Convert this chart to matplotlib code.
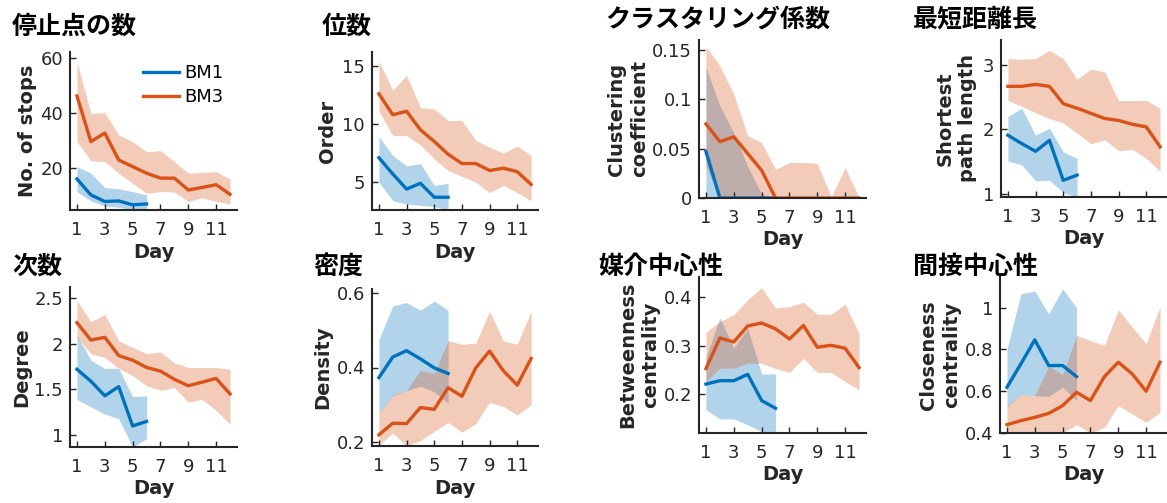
import matplotlib
matplotlib.use("Agg")
import matplotlib.pyplot as plt
from matplotlib.ticker import FuncFormatter

days1 = [1, 2, 3, 4, 5, 6]
days3 = [1, 2, 3, 4, 5, 6, 7, 8, 9, 10, 11, 12]
xticks = [1, 3, 5, 7, 9, 11]

# ── 停止点の数 ────────────────────────────────────────────────────────────
stops_bm1    = [16.1, 10.3, 7.9, 8.1, 6.7, 7.0]
stops_bm1_lo = [11.5, 8.1, 6.3, 5.8, 4.8, 5.1]
stops_bm1_hi = [20.6, 18.2, 13.0, 12.5, 11.5, 10.3]
stops_bm3    = [46.3, 29.7, 32.8, 23.0, 20.6, 18.2, 16.4, 16.4, 12.1, 13.0, 14.0, 10.5]
stops_bm3_lo = [29.7, 22.7, 22.4, 18.2, 14.5, 10.9, 11.5, 11.3, 7.9, 9.3, 7.9, 7.0]
stops_bm3_hi = [58.8, 40.0, 40.2, 32.1, 29.7, 26.0, 26.4, 22.4, 18.2, 18.5, 18.8, 16.1]

# ── 位数 ──────────────────────────────────────────────────────────────────
order_bm1    = [7.1, 5.7, 4.4, 4.9, 3.7, 3.7]
order_bm1_lo = [5.0, 3.4, 3.1, 3.0, 2.9, 2.6]
order_bm1_hi = [8.9, 7.3, 6.4, 6.6, 4.7, 4.9]
order_bm3    = [12.6, 10.8, 11.1, 9.5, 8.5, 7.4, 6.6, 6.6, 6.0, 6.2, 5.9, 4.8]
order_bm3_lo = [11.1, 9.0, 9.0, 8.2, 7.0, 6.0, 5.5, 5.0, 4.1, 4.7, 4.1, 3.4]
order_bm3_hi = [15.4, 12.9, 14.2, 11.4, 11.3, 10.3, 10.3, 8.6, 8.0, 7.5, 8.1, 7.3]

# ── クラスタリング係数 ────────────────────────────────────────────────────
clus_bm1    = [0.047, 0, 0, 0, 0, 0]
clus_bm1_lo = [0, 0, 0, 0, 0, 0]
clus_bm1_hi = [0.132, 0.093, 0.066, 0.032, 0.004, 0]
clus_bm3    = [0.075, 0.057, 0.062, 0.045, 0.028, 0, 0, 0, 0, 0, 0, 0]
clus_bm3_lo = [0.032, 0, 0, 0, 0, 0, 0, 0, 0, 0, 0, 0]
clus_bm3_hi = [0.153, 0.134, 0.105, 0.063, 0.056, 0.029, 0.036, 0.036, 0.035, 0.001, 0.031, 0]

# ── 最短距離長 ────────────────────────────────────────────────────────────
path_bm1    = [1.91, 1.78, 1.66, 1.83, 1.21, 1.29]
path_bm1_lo = [1.51, 1.45, 1.20, 1.21, 1.02, 0.95]
path_bm1_hi = [2.20, 2.33, 1.91, 2.02, 1.65, 1.55]
path_bm3    = [2.67, 2.67, 2.70, 2.67, 2.40, 2.33, 2.25, 2.17, 2.14, 2.08, 2.04, 1.73]
path_bm3_lo = [2.45, 2.36, 2.26, 2.17, 2.10, 1.94, 1.78, 1.84, 1.67, 1.69, 1.55, 1.35]
path_bm3_hi = [3.10, 3.09, 3.10, 3.23, 3.10, 2.78, 2.94, 2.89, 2.45, 2.45, 2.45, 2.33]

# ── 次数 ──────────────────────────────────────────────────────────────────
deg_bm1    = [1.72, 1.59, 1.43, 1.53, 1.10, 1.15]
deg_bm1_lo = [1.39, 1.31, 1.23, 1.18, 0.87, 0.96]
deg_bm1_hi = [2.09, 1.82, 1.73, 1.73, 1.42, 1.43]
deg_bm3    = [2.23, 2.04, 2.07, 1.87, 1.82, 1.74, 1.70, 1.61, 1.54, 1.58, 1.62, 1.45]
deg_bm3_lo = [2.07, 1.89, 1.85, 1.73, 1.65, 1.54, 1.49, 1.52, 1.36, 1.39, 1.27, 1.12]
deg_bm3_hi = [2.47, 2.24, 2.32, 2.03, 1.96, 1.89, 1.91, 1.79, 1.74, 1.74, 1.74, 1.72]

# ── 密度 ──────────────────────────────────────────────────────────────────
dens_bm1    = [0.373, 0.428, 0.445, 0.423, 0.399, 0.384]
dens_bm1_lo = [0.278, 0.325, 0.338, 0.350, 0.335, 0.304]
dens_bm1_hi = [0.475, 0.565, 0.574, 0.553, 0.578, 0.553]
dens_bm3    = [0.220, 0.251, 0.250, 0.293, 0.288, 0.346, 0.323, 0.399, 0.444, 0.391, 0.353, 0.424]
dens_bm3_lo = [0.192, 0.225, 0.190, 0.205, 0.229, 0.253, 0.227, 0.250, 0.307, 0.296, 0.273, 0.300]
dens_bm3_hi = [0.278, 0.327, 0.338, 0.393, 0.384, 0.472, 0.462, 0.465, 0.550, 0.471, 0.462, 0.550]

# ── 媒介中心性 ────────────────────────────────────────────────────────────
btw_bm1    = [0.221, 0.228, 0.228, 0.241, 0.187, 0.171]
btw_bm1_lo = [0.168, 0.149, 0.149, 0.137, 0.123, 0.123]
btw_bm1_hi = [0.275, 0.358, 0.295, 0.336, 0.242, 0.242]
btw_bm3    = [0.253, 0.316, 0.308, 0.341, 0.347, 0.335, 0.314, 0.342, 0.297, 0.301, 0.295, 0.255]
btw_bm3_lo = [0.226, 0.254, 0.254, 0.264, 0.264, 0.253, 0.245, 0.274, 0.245, 0.245, 0.226, 0.209]
btw_bm3_hi = [0.328, 0.350, 0.364, 0.395, 0.420, 0.378, 0.381, 0.390, 0.365, 0.365, 0.386, 0.325]

# ── 間接中心性 ────────────────────────────────────────────────────────────
clo_bm1    = [0.619, 0.731, 0.846, 0.723, 0.723, 0.670]
clo_bm1_lo = [0.526, 0.584, 0.579, 0.575, 0.620, 0.555]
clo_bm1_hi = [0.803, 1.067, 1.080, 0.971, 1.091, 1.000]
clo_bm3    = [0.440, 0.459, 0.475, 0.494, 0.531, 0.595, 0.555, 0.670, 0.739, 0.683, 0.600, 0.739]
clo_bm3_lo = [0.400, 0.400, 0.400, 0.400, 0.400, 0.440, 0.400, 0.427, 0.531, 0.491, 0.451, 0.499]
clo_bm3_hi = [0.531, 0.584, 0.579, 0.720, 0.680, 0.867, 0.843, 0.819, 0.990, 0.907, 0.827, 1.006]

titles  = ["停止点の数", "位数", "クラスタリング係数", "最短距離長",
           "次数", "密度", "媒介中心性", "間接中心性"]
ylabels = ["No. of stops", "Order", "Clustering\ncoefficient", "Shortest\npath length",
           "Degree", "Density", "Betweenness\ncentrality", "Closeness\ncentrality"]
yticks  = [[20, 40, 60], [5, 10, 15], [0, 0.05, 0.1, 0.15], [1, 2, 3],
           [1, 1.5, 2, 2.5], [0.2, 0.4, 0.6], [0.2, 0.3, 0.4], [0.4, 0.6, 0.8, 1]]
ylims   = [(4.8, 62.3), (2.6, 16.2), (0, 0.16), (0.95, 3.39),
           (0.87, 2.62), (0.19, 0.61), (0.12, 0.442), (0.40, 1.147)]

series = [
    (stops_bm1, stops_bm1_lo, stops_bm1_hi, stops_bm3, stops_bm3_lo, stops_bm3_hi),
    (order_bm1, order_bm1_lo, order_bm1_hi, order_bm3, order_bm3_lo, order_bm3_hi),
    (clus_bm1, clus_bm1_lo, clus_bm1_hi, clus_bm3, clus_bm3_lo, clus_bm3_hi),
    (path_bm1, path_bm1_lo, path_bm1_hi, path_bm3, path_bm3_lo, path_bm3_hi),
    (deg_bm1, deg_bm1_lo, deg_bm1_hi, deg_bm3, deg_bm3_lo, deg_bm3_hi),
    (dens_bm1, dens_bm1_lo, dens_bm1_hi, dens_bm3, dens_bm3_lo, dens_bm3_hi),
    (btw_bm1, btw_bm1_lo, btw_bm1_hi, btw_bm3, btw_bm3_lo, btw_bm3_hi),
    (clo_bm1, clo_bm1_lo, clo_bm1_hi, clo_bm3, clo_bm3_lo, clo_bm3_hi),
]

# layout in pixels: left, top, right, bottom of each axes
W, H = 1167, 503
boxes = [(70, 52, 237, 210), (372, 52, 538, 210), (699, 40, 866, 198), (1001, 40, 1167, 197),
         (70, 287, 237, 447), (372, 289, 538, 446), (699, 277, 866, 433), (1000, 277, 1167, 433)]
title_xy = [(12, 27), (322, 27), (605, 20), (913, 20),
            (12, 267), (313, 267), (598, 267), (913, 267)]
ylab_x = [27, 327, 628, 956, 22, 323, 639, 940]
xlab_off = 42

C1 = "#0072BD"
C3 = "#D95319"
INK = "#262626"

fig = plt.figure(figsize=(W / 100, H / 100), dpi=100)
fmt = FuncFormatter(lambda v, p: f"{v:g}")

for i in range(8):
    l, t, r, b = boxes[i]
    ax = fig.add_axes([l / W, 1 - b / H, (r - l) / W, (b - t) / H])
    m1, lo1, hi1, m3, lo3, hi3 = series[i]

    ax.fill_between(days1, lo1, hi1, color=C1, alpha=0.3, lw=0)
    ax.fill_between(days3, lo3, hi3, color=C3, alpha=0.3, lw=0)
    ax.plot(days1, m1, color=C1, lw=2.4, label="BM1")
    ax.plot(days3, m3, color=C3, lw=2.4, label="BM3")

    ax.set_xlim(0.5, 12.5)
    ax.set_ylim(*ylims[i])
    ax.set_xticks(xticks)
    ax.set_yticks(yticks[i])
    ax.yaxis.set_major_formatter(fmt)
    ax.spines["top"].set_visible(False)
    ax.spines["right"].set_visible(False)
    for s in ["left", "bottom"]:
        ax.spines[s].set_linewidth(1.5)
        ax.spines[s].set_color(INK)
    ax.tick_params(direction="in", length=4, width=1, color=INK,
                   labelcolor=INK, labelsize=13)
    ax.tick_params(axis="x", pad=8)
    ax.tick_params(axis="y", pad=5)

    ax.text((ylab_x[i] - l) / (r - l), 0.5, ylabels[i], transform=ax.transAxes,
            rotation=90, ha="center", va="center", multialignment="center",
            fontsize=14, fontweight="bold", color=INK, linespacing=1.25)
    ax.text(0.5, -xlab_off / (b - t), "Day", transform=ax.transAxes,
            ha="center", va="center", fontsize=14, fontweight="bold", color=INK)

    tx, ty = title_xy[i]
    fig.text(tx / W, 1 - ty / H, titles[i], ha="left", va="center",
             fontsize=18, fontweight="bold", family=["Noto Sans CJK JP", "DejaVu Sans"])

    if i == 0:
        ax.legend(loc="upper right", bbox_to_anchor=(0.96, 0.97), frameon=False,
                  fontsize=13, handlelength=2.0, handletextpad=0.25,
                  labelspacing=0.35, borderaxespad=0)

fig.savefig("out.png", dpi=100)
